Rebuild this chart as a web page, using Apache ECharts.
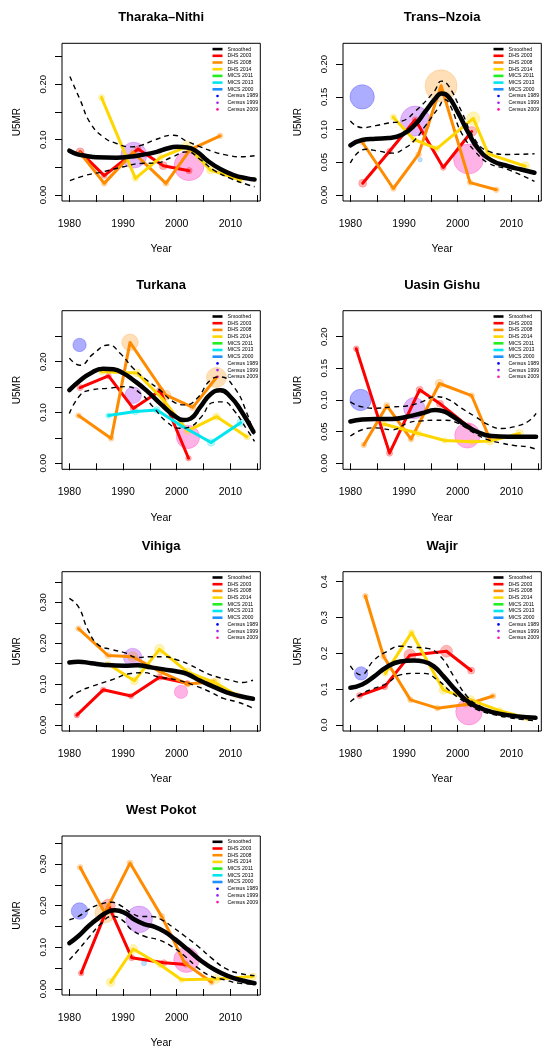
<!DOCTYPE html>
<html><head><meta charset="utf-8">
<script src="https://cdn.jsdelivr.net/npm/echarts@6/dist/echarts.min.js"></script>
<style>html,body{margin:0;padding:0;background:#fff}#c{width:550px;height:1050px}</style>
</head><body><div id="c"></div>
<script>
// ---------- labels / ticks ----------
const panelNames = ['Tharaka\u2013Nithi','Trans\u2013Nzoia','Turkana','Uasin Gishu','Vihiga','Wajir','West Pokot'];
const legendNames = ['Smoothed','DHS 2003','DHS 2008','DHS 2014','MICS 2011','MICS 2013','MICS 2000','Census 1989','Census 1999','Census 2009'];
const yearTicks = [1980,1985,1990,1995,2000,2005,2010,2015];
const yearLabels = [1980,1990,2000,2010];
const yTicks25 = [0,0.05,0.10,0.15,0.20,0.25];
const yTicks20 = [0,0.05,0.10,0.15,0.20];
const yTicks35 = [0,0.05,0.10,0.15,0.20,0.25,0.30,0.35];
const yTicks40 = [0,0.1,0.2,0.3,0.4];
const yLabels20 = [0,0.10,0.20];
const yLabelsAll20 = [0,0.05,0.10,0.15,0.20];
const yLabels30 = [0,0.10,0.20,0.30];
const yLabels40 = [0,0.1,0.2,0.3,0.4];

// ---------- data: [year, U5MR, weight] ----------
// Tharaka-Nithi
const tharakaSmoothed = [[1980,0.080],[1981.4,0.074],[1983,0.071],[1985,0.068],[1988.8,0.0675],[1991,0.069],[1993.2,0.072],[1996.3,0.078],[1998.2,0.084],[2000,0.087],[2001.9,0.086],[2003.8,0.078],[2005.6,0.063],[2008.1,0.047],[2010.6,0.036],[2013.1,0.030],[2014.5,0.028]];
const tharakaUpper = [[1980.1,0.214],[1982,0.172],[1983.9,0.13],[1986.3,0.105],[1988.8,0.093],[1991.3,0.087],[1993.5,0.090],[1996,0.100],[1999.4,0.108],[2001.9,0.097],[2004.4,0.087],[2006.9,0.078],[2009.4,0.072],[2011.9,0.069],[2014.5,0.071]];
const tharakaLower = [[1980.1,0.026],[1983.2,0.036],[1986.3,0.042],[1990.1,0.051],[1993.2,0.057],[1996.3,0.058],[1999,0.068],[2001.9,0.078],[2004.4,0.064],[2006.9,0.045],[2010,0.030],[2013.1,0.019],[2014.5,0.015]];
const tharakaDHS2003 = [[1982,0.078,1],[1986.5,0.035,0.5],[1992.8,0.083,0.6],[1997.5,0.053,1],[2002.3,0.044,0.6]];
const tharakaDHS2008 = [[1982,0.076,0.5],[1986.5,0.021,0.5],[1991.9,0.077,0.5],[1998,0.021,0.5],[2002.5,0.082,0.6],[2008.1,0.107,0.5]];
const tharakaDHS2014 = [[1986,0.176,0.6],[1992.3,0.030,0.6],[1997,0.068,0.6],[2002,0.088,1.8],[2006.3,0.045,1],[2011.9,0.027,0.6]];
const tharakaCensus1999 = [[1992,0.072,10.5]];
const tharakaCensus2009 = [[2002.3,0.053,14]];

// Trans-Nzoia
const transSmoothed = [[1980,0.076],[1982.2,0.084],[1984.7,0.086],[1987.1,0.087],[1989.6,0.092],[1992.1,0.108],[1993.9,0.127],[1995.8,0.147],[1997,0.155],[1998.2,0.151],[2000.1,0.125],[2002,0.095],[2003.8,0.071],[2006.3,0.053],[2009.4,0.044],[2011.8,0.039],[2014.3,0.034]];
const transUpper = [[1980,0.113],[1982.2,0.103],[1984.7,0.106],[1987.1,0.110],[1989.6,0.113],[1992.1,0.128],[1995.6,0.158],[1997,0.174],[1998.2,0.168],[2000.7,0.128],[2003.2,0.085],[2005.7,0.067],[2009.4,0.062],[2014.3,0.063]];
const transLower = [[1980,0.049],[1982.8,0.070],[1985.3,0.067],[1987.8,0.064],[1990.2,0.072],[1992.1,0.085],[1993.9,0.105],[1996.4,0.133],[1997.6,0.146],[1998.7,0.135],[2000.7,0.095],[2003.2,0.067],[2005.7,0.049],[2009.4,0.039],[2014.3,0.021]];
const transDHS2003 = [[1982.3,0.018,1],[1987.3,0.067,0.5],[1992.1,0.115,0.6],[1997.3,0.042,0.5],[2002.6,0.097,1.6]];
const transDHS2008 = [[1982.2,0.081,0.5],[1988,0.010,0.5],[1992.7,0.062,0.5],[1996.9,0.167,16],[2002.3,0.019,0.5],[2007.2,0.008,0.5]];
const transDHS2014 = [[1988,0.119,0.6],[1991.8,0.085,0.6],[1996.1,0.071,0.6],[2002.9,0.117,2.8],[2005.7,0.063,0.6],[2012.6,0.044,1.2]];
const transMICS2000 = [[1993,0.054,0.3]];
const transCensus1989 = [[1982.2,0.150,9.3]];
const transCensus1999 = [[1992.1,0.113,14]];
const transCensus2009 = [[2002,0.055,14]];

// Turkana
const turkanaSmoothed = [[1980,0.144],[1982,0.163],[1983.9,0.177],[1986.3,0.186],[1988.2,0.185],[1990.1,0.177],[1991.9,0.164],[1994.4,0.143],[1996.9,0.118],[1999.4,0.095],[2001.3,0.085],[2002.6,0.088],[2004.4,0.111],[2006.3,0.136],[2008.1,0.144],[2010,0.131],[2011.9,0.105],[2014.3,0.062]];
const turkanaUpper = [[1980,0.207],[1982,0.193],[1984.5,0.216],[1987.3,0.233],[1989.5,0.216],[1991.9,0.187],[1994.4,0.164],[1996.9,0.144],[1999.4,0.121],[2001.6,0.115],[2003.8,0.128],[2006.3,0.164],[2008.1,0.170],[2010.6,0.151],[2013.1,0.098],[2014.5,0.050]];
const turkanaLower = [[1980,0.098],[1982,0.134],[1983.9,0.144],[1987.6,0.148],[1990.7,0.151],[1993.2,0.138],[1995.6,0.111],[1998.1,0.082],[2000.6,0.069],[2002.5,0.072],[2004.4,0.089],[2006.9,0.120],[2008.7,0.121],[2010.6,0.105],[2013.1,0.066],[2014.5,0.043]];
const turkanaDHS2003 = [[1982,0.149,0.6],[1987.3,0.172,0.5],[1991.9,0.108,0.6],[1996.9,0.143,0.8],[2002.2,0.010,0.5]];
const turkanaDHS2008 = [[1981.7,0.094,0.5],[1987.8,0.049,0.5],[1991.3,0.238,4.3],[1998,0.134,1.6],[2003,0.110,0.6],[2007.4,0.169,6.25]];
const turkanaDHS2014 = [[1986,0.180,0.6],[1992.6,0.178,1],[1997.5,0.125,0.6],[2002,0.064,0.8],[2007.4,0.092,0.8],[2013.1,0.052,0.6]];
const turkanaMICS2013 = [[1987.3,0.094,0.5],[1992.3,0.102,0.7],[1996.3,0.105,0.7],[2000.7,0.075,0.7],[2006.4,0.041,0.9],[2011.9,0.080,0.9]];
const turkanaCensus1989 = [[1981.9,0.233,2.8]];
const turkanaCensus1999 = [[1991.9,0.134,4.3]];
const turkanaCensus2009 = [[2002.1,0.052,8.5]];

// Uasin Gishu
const uasinSmoothed = [[1980,0.066],[1982.2,0.069],[1984.7,0.070],[1987.8,0.070],[1990.8,0.074],[1993.3,0.079],[1995.8,0.084],[1997,0.083],[1998.9,0.075],[2001.3,0.061],[2003.8,0.049],[2006.3,0.043],[2009.4,0.042],[2014.6,0.042]];
const uasinUpper = [[1980,0.097],[1982.2,0.089],[1984.7,0.087],[1987.8,0.089],[1990.8,0.091],[1993.3,0.097],[1995.8,0.105],[1998.2,0.101],[2000.7,0.087],[2003.2,0.074],[2005.7,0.061],[2008.1,0.055],[2010.6,0.058],[2013.1,0.066],[2014.6,0.079]];
const uasinLower = [[1980,0.043],[1982.2,0.053],[1984.7,0.056],[1987.8,0.053],[1990.8,0.064],[1993.3,0.067],[1995.8,0.068],[1997.6,0.068],[2000.1,0.063],[2003.2,0.047],[2005.7,0.037],[2008.1,0.032],[2010.6,0.028],[2013.1,0.026],[2014.6,0.022]];
const uasinDHS2003 = [[1981.1,0.181,0.5],[1987.3,0.016,0.6],[1992.9,0.116,0.8],[1996.7,0.094,0.8],[2002,0.058,0.5]];
const uasinDHS2008 = [[1982.5,0.029,0.5],[1986.8,0.091,0.6],[1991.3,0.038,0.5],[1996.6,0.126,1.2],[2002.6,0.107,0.5],[2006,0.038,0.6]];
const uasinDHS2014 = [[1986.2,0.062,0.5],[1992.7,0.047,0.6],[1997.6,0.036,0.5],[2002.6,0.034,0.5],[2006,0.035,1],[2011.5,0.047,1]];
const uasinCensus1989 = [[1981.9,0.100,7.1]];
const uasinCensus1999 = [[1991.9,0.087,7.1]];
const uasinCensus2009 = [[2001.8,0.044,10]];

// Vihiga
const vihigaSmoothed = [[1980,0.153],[1981.7,0.155],[1984.1,0.151],[1986.6,0.147],[1990.3,0.145],[1992.7,0.146],[1995.2,0.141],[1997.6,0.136],[2000.1,0.131],[2001.9,0.125],[2004.4,0.108],[2006.8,0.094],[2009.3,0.080],[2011.7,0.071],[2014.2,0.064]];
const vihigaUpper = [[1980,0.310],[1981.7,0.289],[1983.5,0.232],[1985.4,0.196],[1987.8,0.185],[1990.3,0.177],[1992.7,0.165],[1995.2,0.167],[1997.6,0.167],[2000.1,0.159],[2002.5,0.147],[2005,0.130],[2007.4,0.118],[2009.9,0.110],[2012.3,0.104],[2014.2,0.110]];
const vihigaLower = [[1980,0.065],[1981.7,0.081],[1984.1,0.094],[1987.8,0.110],[1991.5,0.126],[1994,0.128],[1996.4,0.118],[2000.1,0.110],[2003.7,0.095],[2006.2,0.081],[2008.7,0.065],[2011.1,0.057],[2013.6,0.045],[2014.2,0.041]];
const vihigaDHS2003 = [[1981.4,0.024,0.5],[1986.3,0.086,0.5],[1991.5,0.071,0.5],[1996.8,0.117,0.6],[2002,0.102,0.5]];
const vihigaDHS2008 = [[1981.7,0.236,0.5],[1987.2,0.170,0.6],[1991.8,0.167,1.6],[1997,0.130,0.6],[2002,0.100,0.6],[2006.9,0.106,0.6]];
const vihigaDHS2014 = [[1987.2,0.149,0.6],[1992.1,0.108,1],[1996.8,0.185,1.6],[2002,0.130,1],[2007.2,0.103,1.4],[2011.1,0.073,0.6]];
const vihigaMICS2011 = [[1993.5,0.142,0.4]];
const vihigaCensus1999 = [[1991.8,0.165,5.4]];
const vihigaCensus2009 = [[2000.8,0.081,2.8]];

// Wajir
const wajirSmoothed = [[1980,0.104],[1982.2,0.113],[1984.4,0.135],[1986.8,0.162],[1989.3,0.177],[1991.8,0.180],[1993.7,0.177],[1995.6,0.163],[1997.4,0.135],[1999.9,0.093],[2002.4,0.060],[2004.9,0.043],[2008,0.031],[2011.1,0.024],[2014.5,0.020]];
const wajirUpper = [[1980,0.165],[1981.9,0.140],[1984.4,0.181],[1986.8,0.205],[1989.3,0.220],[1991.8,0.217],[1994.3,0.214],[1996.8,0.191],[1999.3,0.135],[2001.8,0.079],[2004.3,0.051],[2006.8,0.037],[2009.3,0.028],[2011.8,0.022],[2014.5,0.023]];
const wajirLower = [[1980,0.065],[1982.2,0.088],[1984.4,0.102],[1986.8,0.116],[1989.3,0.140],[1991.8,0.144],[1993.7,0.144],[1996.2,0.126],[1998.7,0.093],[2001.2,0.065],[2003.7,0.042],[2006.2,0.031],[2009.3,0.021],[2011.8,0.016],[2014.5,0.012]];
const wajirDHS2003 = [[1981.7,0.082,0.6],[1986.4,0.107,0.6],[1991.1,0.195,2.25],[1997.9,0.206,2.25],[2002.5,0.152,0.8]];
const wajirDHS2008 = [[1982.8,0.360,0.5],[1986.2,0.191,0.5],[1991.2,0.070,0.5],[1996.2,0.047,0.5],[2001.5,0.057,0.5],[2006.6,0.081,0.5]];
const wajirDHS2014 = [[1986.5,0.144,0.5],[1991.4,0.258,0.6],[1997.3,0.098,1.2],[2002.4,0.070,1.2],[2007.8,0.040,0.6],[2013,0.019,0.6]];
const wajirCensus1989 = [[1982,0.144,2.8]];
const wajirCensus2009 = [[2002.1,0.037,11]];

// West Pokot
const pokotSmoothed = [[1980,0.110],[1981.7,0.127],[1983.5,0.150],[1985.4,0.170],[1987.3,0.186],[1988.5,0.189],[1990.4,0.182],[1992.2,0.166],[1994.1,0.155],[1995.9,0.149],[1997.8,0.137],[1999.7,0.119],[2002.1,0.094],[2004.6,0.067],[2007.1,0.046],[2009.6,0.031],[2012,0.021],[2014.5,0.014]];
const pokotUpper = [[1980,0.166],[1981.7,0.174],[1983.5,0.190],[1985.4,0.202],[1987.9,0.208],[1989.8,0.198],[1991.6,0.182],[1993.5,0.174],[1995.3,0.174],[1997.2,0.166],[1999.1,0.150],[2001.6,0.126],[2004,0.102],[2006.5,0.074],[2009,0.050],[2011.5,0.038],[2014.5,0.032]];
const pokotLower = [[1980,0.070],[1981.7,0.094],[1983.5,0.122],[1986,0.158],[1987.9,0.174],[1989.8,0.166],[1991.6,0.142],[1994.1,0.126],[1996.6,0.118],[1999.1,0.102],[2001.6,0.078],[2004,0.050],[2006.5,0.030],[2009,0.022],[2011.5,0.014],[2014.5,0.012]];
const pokotDHS2003 = [[1982.2,0.038,0.5],[1987.3,0.200,2.8],[1991.6,0.075,0.6],[1997.6,0.063,0.6],[2001.7,0.059,0.5]];
const pokotDHS2008 = [[1982,0.292,0.5],[1986.6,0.182,6.25],[1991.3,0.302,0.6],[1997.2,0.174,0.6],[2001.5,0.062,0.5],[2006.5,0.016,0.5]];
const pokotDHS2014 = [[1987.7,0.016,1.2],[1991.9,0.096,1.2],[1996.9,0.058,0.5],[2000.9,0.022,0.5],[2007.4,0.024,1.2],[2014.2,0.030,0.8]];
const pokotMICS2000 = [[1993.9,0.062,0.4]];
const pokotCensus1989 = [[1981.9,0.187,4.3]];
const pokotCensus1999 = [[1993,0.167,11]];
const pokotCensus2009 = [[2001.8,0.070,10]];

// ---------- assemble ----------
const panels = [
  {smoothed:tharakaSmoothed, upper:tharakaUpper, lower:tharakaLower, src:{'DHS 2003':tharakaDHS2003,'DHS 2008':tharakaDHS2008,'DHS 2014':tharakaDHS2014}, census:{'Census 1999':tharakaCensus1999,'Census 2009':tharakaCensus2009}, ymin:-0.0108, ymax:0.274, ticks:yTicks25, labels:yLabels20, dec:2},
  {smoothed:transSmoothed, upper:transUpper, lower:transLower, src:{'DHS 2003':transDHS2003,'DHS 2008':transDHS2008,'DHS 2014':transDHS2014,'MICS 2000':transMICS2000}, census:{'Census 1989':transCensus1989,'Census 1999':transCensus1999,'Census 2009':transCensus2009}, ymin:-0.0091, ymax:0.2318, ticks:yTicks20, labels:yLabelsAll20, dec:2},
  {smoothed:turkanaSmoothed, upper:turkanaUpper, lower:turkanaLower, src:{'DHS 2003':turkanaDHS2003,'DHS 2008':turkanaDHS2008,'DHS 2014':turkanaDHS2014,'MICS 2013':turkanaMICS2013}, census:{'Census 1989':turkanaCensus1989,'Census 1999':turkanaCensus1999,'Census 2009':turkanaCensus2009}, ymin:-0.0118, ymax:0.3004, ticks:yTicks25, labels:yLabels20, dec:2},
  {smoothed:uasinSmoothed, upper:uasinUpper, lower:uasinLower, src:{'DHS 2003':uasinDHS2003,'DHS 2008':uasinDHS2008,'DHS 2014':uasinDHS2014}, census:{'Census 1989':uasinCensus1989,'Census 1999':uasinCensus1999,'Census 2009':uasinCensus2009}, ymin:-0.0095, ymax:0.241, ticks:yTicks20, labels:yLabelsAll20, dec:2},
  {smoothed:vihigaSmoothed, upper:vihigaUpper, lower:vihigaLower, src:{'DHS 2003':vihigaDHS2003,'DHS 2008':vihigaDHS2008,'DHS 2014':vihigaDHS2014,'MICS 2011':vihigaMICS2011}, census:{'Census 1999':vihigaCensus1999,'Census 2009':vihigaCensus2009}, ymin:-0.0147, ymax:0.375, ticks:yTicks35, labels:yLabels30, dec:2},
  {smoothed:wajirSmoothed, upper:wajirUpper, lower:wajirLower, src:{'DHS 2003':wajirDHS2003,'DHS 2008':wajirDHS2008,'DHS 2014':wajirDHS2014}, census:{'Census 1989':wajirCensus1989,'Census 2009':wajirCensus2009}, ymin:-0.0168, ymax:0.428, ticks:yTicks40, labels:yLabels40, dec:1},
  {smoothed:pokotSmoothed, upper:pokotUpper, lower:pokotLower, src:{'DHS 2003':pokotDHS2003,'DHS 2008':pokotDHS2008,'DHS 2014':pokotDHS2014,'MICS 2000':pokotMICS2000}, census:{'Census 1989':pokotCensus1989,'Census 1999':pokotCensus1999,'Census 2009':pokotCensus2009}, ymin:-0.0144, ymax:0.367, ticks:yTicks35, labels:yLabels30, dec:2}
];

const colors = {'Smoothed':'#000000','DHS 2003':'#FF0000','DHS 2008':'#FF8C00','DHS 2014':'#FFD700','MICS 2011':'#22EE22','MICS 2013':'#00E5EE','MICS 2000':'#1E90FF','Census 1989':'#0000FF','Census 1999':'#A020F0','Census 2009':'#FF10B0'};
function rgba(hex,a){const n=parseInt(hex.slice(1),16);return 'rgba('+(n>>16&255)+','+(n>>8&255)+','+(n&255)+','+a+')';}
function bubble(v){return 8*Math.sqrt(v[2]);}

const FONT = 'Liberation Sans';
const colLeft = [62, 343];
const rowTop = [43.3, 310.7, 571.7, 836];
const rowH = [157.7, 158.6, 159.3, 159];
const W = 198.3;

const grids=[], xAxes=[], yAxes=[], series=[], titles=[], legends=[];

panels.forEach((p,i)=>{
  const col=i%2, row=Math.floor(i/2);
  const L=colLeft[col], T=rowTop[row], H=rowH[row];
  grids.push({left:L, top:T, width:W, height:H, show:true, borderColor:'#000', borderWidth:1, backgroundColor:'transparent', outerBoundsMode:'none', containLabel:false});
  xAxes.push({type:'value', gridIndex:i, min:1978.63, max:2015.57,
    axisLine:{show:false}, splitLine:{show:false},
    axisTick:{show:true, customValues:yearTicks, length:7, lineStyle:{color:'#000', width:1}},
    axisLabel:{show:true, customValues:yearLabels, fontSize:10.5, color:'#000', fontFamily:FONT, margin:17.5, formatter:v=>String(Math.round(v))},
    name:'Year', nameLocation:'middle', nameGap:43, nameTextStyle:{fontSize:10.5, color:'#000', fontFamily:FONT}});
  yAxes.push({type:'value', gridIndex:i, min:p.ymin, max:p.ymax,
    axisLine:{show:false}, splitLine:{show:false},
    axisTick:{show:true, customValues:p.ticks, length:7, lineStyle:{color:'#000', width:1}},
    axisLabel:{show:true, customValues:p.labels, rotate:90, fontSize:9.5, color:'#000', fontFamily:FONT, margin:14, formatter:v=>v.toFixed(p.dec)},
    name:'U5MR', nameLocation:'middle', nameRotate:90, nameGap:40, nameTextStyle:{fontSize:10, color:'#000', fontFamily:FONT}});
  titles.push({text:panelNames[i], left:L+W/2, top:T-32, textAlign:'center', padding:0,
    textStyle:{fontSize:13, fontWeight:'bold', color:'#000', fontFamily:FONT}});
  legends.push({orient:'vertical', left:L+150.5, top:T+2.8, itemWidth:10, itemHeight:2.6, itemGap:0.7, padding:0, selectedMode:false,
    textStyle:{fontSize:5.2, lineHeight:6, color:'#000', fontFamily:FONT},
    data:legendNames.map(n=>({name:n, icon:n.startsWith('Census')?'circle':'rect', itemStyle:{color:colors[n], borderWidth:0, opacity:1}}))});

  // census bubbles
  Object.keys(p.census).forEach(n=>{
    series.push({name:n, type:'scatter', xAxisIndex:i, yAxisIndex:i, z:1, data:p.census[n], symbolSize:bubble,
      itemStyle:{color:rgba(colors[n],0.4), borderColor:rgba(colors[n],0.3), borderWidth:1}, silent:true});
  });
  // survey points
  Object.keys(p.src).forEach(n=>{
    series.push({name:n+' pts', type:'scatter', xAxisIndex:i, yAxisIndex:i, z:2, data:p.src[n], symbolSize:bubble,
      itemStyle:{color:rgba(colors[n],0.35), borderColor:rgba(colors[n],0.25), borderWidth:1}, silent:true});
  });
  // survey lines
  Object.keys(p.src).forEach(n=>{
    series.push({name:n, type:'line', xAxisIndex:i, yAxisIndex:i, z:3, data:p.src[n], showSymbol:false, symbol:'none', color:colors[n],
      lineStyle:{color:colors[n], width:3, cap:'round', join:'round'}, silent:true});
  });
  // bounds
  [p.upper,p.lower].forEach((d,k)=>{
    series.push({name:k?'Lower':'Upper', type:'line', xAxisIndex:i, yAxisIndex:i, z:4, data:d, showSymbol:false, symbol:'none', smooth:0.5,
      lineStyle:{color:'#000', width:1.4, type:[5,4]}, silent:true});
  });
  series.push({name:'Smoothed', type:'line', xAxisIndex:i, yAxisIndex:i, z:5, data:p.smoothed, showSymbol:false, symbol:'none', smooth:0.5, color:'#000',
    lineStyle:{color:'#000', width:4.5, cap:'round', join:'round'}, silent:true});
});
// ensure every legend entry has a series
['MICS 2011','MICS 2013','MICS 2000','Census 1989','Census 1999','Census 2009','DHS 2003','DHS 2008','DHS 2014'].forEach(n=>{
  series.push({name:n, type:'line', xAxisIndex:0, yAxisIndex:0, data:[], color:colors[n], showSymbol:false});
});

const chart = echarts.init(document.getElementById('c'), null, {renderer:'canvas'});
chart.setOption({animation:false, backgroundColor:'#fff', title:titles, legend:legends, grid:grids, xAxis:xAxes, yAxis:yAxes, series:series});
</script></body></html>
